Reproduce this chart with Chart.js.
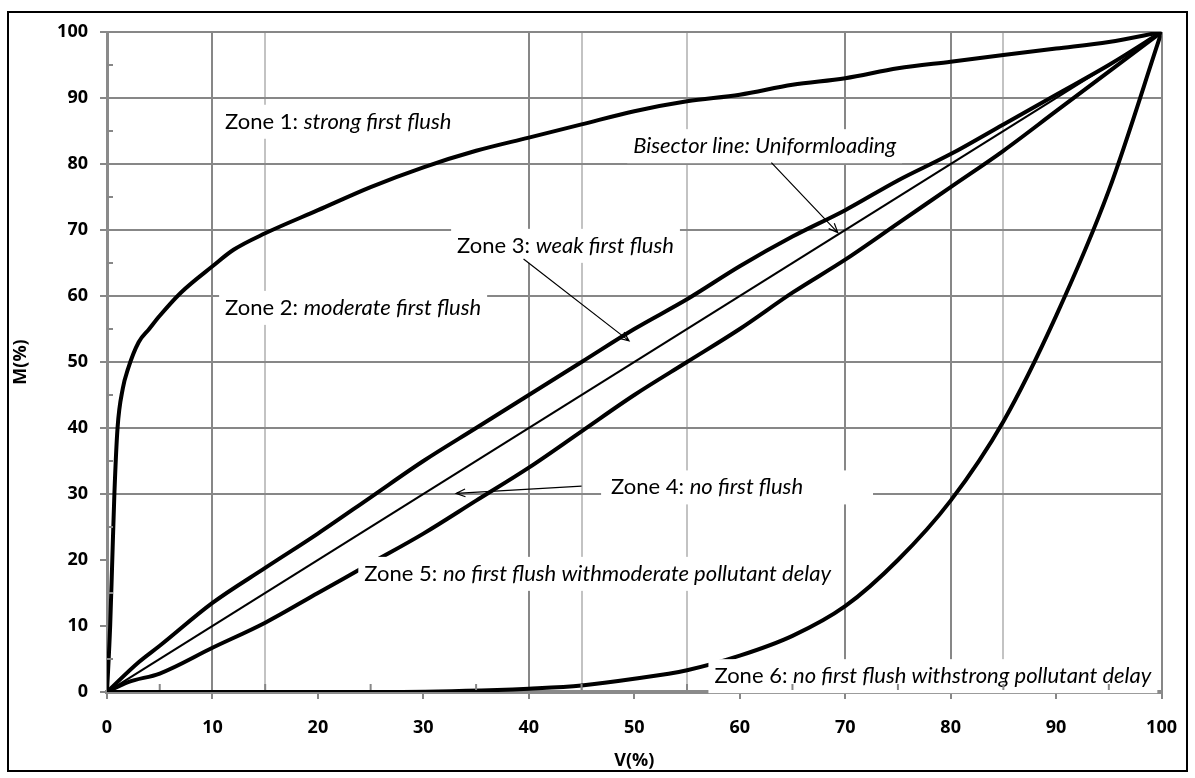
<!DOCTYPE html>
<html>
<head>
<meta charset="utf-8">
<script src="https://cdn.jsdelivr.net/npm/chart.js@4.4.1/dist/chart.umd.min.js"></script>
<style>
  html, body { margin: 0; padding: 0; background: #fff; }
  #wrap { width: 1195px; height: 778px; position: relative; }
</style>
</head>
<body>
<div id="wrap"><canvas id="flushChart" width="1195" height="778"></canvas></div>
<script>
const xTicks = [0, 10, 20, 30, 40, 50, 60, 70, 80, 90, 100];
const yTicks = [0, 10, 20, 30, 40, 50, 60, 70, 80, 90, 100];

// Zone 1 / 2 boundary: strong first flush
const strongV = [0, 0.3, 0.5, 0.7, 1, 1.5, 2, 3, 4, 5, 7, 10, 12, 15, 20, 25, 30, 35, 40, 45, 50, 55, 60, 65, 70, 75, 80, 85, 90, 95, 100];
const strongM = [0, 10, 20, 30, 40, 46, 49, 53, 55, 57, 60.5, 64.5, 67, 69.5, 73, 76.5, 79.5, 82, 84, 86, 88, 89.5, 90.5, 92, 93, 94.5, 95.5, 96.5, 97.5, 98.5, 100];

// upper limit of weak first flush
const weakV = [0, 3, 5, 10, 15, 20, 25, 30, 35, 40, 45, 50, 55, 60, 65, 70, 75, 80, 85, 90, 95, 100];
const weakM = [0, 4.5, 7, 13.5, 18.8, 24, 29.5, 35, 40, 45, 50, 55, 59.5, 64.5, 69, 73, 77.5, 81.5, 86, 90.5, 95, 100];

// bisector, uniform loading
const bisectV = [0, 100];
const bisectM = [0, 100];

// moderate pollutant delay
const moderateV = [0, 2, 5, 10, 15, 20, 25, 30, 35, 40, 45, 50, 55, 60, 65, 70, 75, 80, 85, 90, 95, 100];
const moderateM = [0, 1.5, 2.8, 6.7, 10.5, 15, 19.5, 24, 29, 34, 39.5, 45, 50, 55, 60.5, 65.5, 71, 76.5, 82, 88, 94, 100];

// strong pollutant delay
const delayV = [0, 27, 37, 40, 45, 50, 55, 60, 65, 70, 75, 80, 85, 90, 95, 100];
const delayM = [0, 0, 0.3, 0.5, 1, 2, 3.3, 5.5, 8.5, 13, 20, 29, 41, 57, 76, 100];

const darkGrid = '#878787';
const lightGrid = '#c3c3c3';
const darkX = [0, 10, 40, 70, 80, 100];
const lightX = [15, 45, 55, 85];
const gridY = [0, 30, 40, 50, 60, 70, 80, 90, 100];

function pts(xs, ys) {
    return xs.map(function(v, i) { return { x: v, y: ys[i] }; });
}

function curve(label, xs, ys, width) {
    return {
        label: label,
        data: pts(xs, ys),
        showLine: true,
        borderColor: '#000',
        borderWidth: width,
        pointRadius: 0,
        cubicInterpolationMode: 'monotone',
        fill: false
    };
}

// text boxes drawn on top of the curves, in data units
const notes = [
    { x: 11.2, y: 86.4, parts: [['Zone 1: ', false], ['strong first flush', true]] },
    { x: 11.2, y: 58.2, parts: [['Zone 2: ', false], ['moderate first flush', true]] },
    { x: 33.2, y: 67.6, parts: [['Zone 3: ', false], ['weak first flush', true]], arrow: [39.5, 65.6, 49.5, 53.2] },
    { x: 49.9, y: 82.7, parts: [['Bisector line: Uniformloading', true]], arrow: [63, 80.2, 69.3, 69.6] },
    { x: 47.8, y: 31, parts: [['Zone 4: ', false], ['no first flush', true]], arrow: [45, 31.2, 33.1, 30.1], padL: 10, padR: 70 },
    { x: 24.4, y: 17.9, parts: [['Zone 5: ', false], ['no first flush withmoderate pollutant delay', true]] },
    { x: 57.6, y: 2.4, parts: [['Zone 6: ', false], ['no first flush withstrong pollutant delay', true]] }
];
const noteFont = 'px Lato';
const noteSize = 22;

const notePlugin = {
    id: 'notes',
    afterDatasetsDraw: function(chart) {
        const c = chart.ctx;
        const xs = chart.scales.x, ys = chart.scales.y;
        c.save();
        notes.forEach(function(n) {
            const px = xs.getPixelForValue(n.x);
            const py = ys.getPixelForValue(n.y);
            let w = 0;
            n.parts.forEach(function(p) {
                c.font = (p[1] ? 'italic ' : '') + noteSize + noteFont;
                w += c.measureText(p[0]).width;
            });
            const pl = n.padL || 6, pr = n.padR || 6;
            c.fillStyle = '#fff';
            c.fillRect(px - pl, py - 17, w + pl + pr, 34);
            let cx = px;
            c.fillStyle = '#000';
            c.textBaseline = 'middle';
            n.parts.forEach(function(p) {
                c.font = (p[1] ? 'italic ' : '') + noteSize + noteFont;
                c.fillText(p[0], cx, py);
                cx += c.measureText(p[0]).width;
            });
            if (n.arrow) {
                const x1 = xs.getPixelForValue(n.arrow[0]), y1 = ys.getPixelForValue(n.arrow[1]);
                const x2 = xs.getPixelForValue(n.arrow[2]), y2 = ys.getPixelForValue(n.arrow[3]);
                const a = Math.atan2(y2 - y1, x2 - x1);
                c.strokeStyle = '#000';
                c.lineWidth = 1.2;
                c.beginPath();
                c.moveTo(x1, y1);
                c.lineTo(x2, y2);
                c.moveTo(x2 - 10 * Math.cos(a - 0.4), y2 - 10 * Math.sin(a - 0.4));
                c.lineTo(x2, y2);
                c.lineTo(x2 - 10 * Math.cos(a + 0.4), y2 - 10 * Math.sin(a + 0.4));
                c.stroke();
            }
        });
        c.restore();
    },
    afterDraw: function(chart) {
        const c = chart.ctx;
        const xs = chart.scales.x, ys = chart.scales.y;
        c.save();
        // minor inner ticks
        c.strokeStyle = darkGrid;
        c.lineWidth = 2;
        c.beginPath();
        for (let v = 5; v < 100; v += 10) {
            const py = ys.getPixelForValue(v);
            c.moveTo(ys.right, py);
            c.lineTo(ys.right + 6, py);
            const px = xs.getPixelForValue(v);
            c.moveTo(px, xs.top - 2);
            c.lineTo(px, xs.top - 8);
        }
        c.stroke();
        // outer frame
        c.strokeStyle = '#000';
        c.lineWidth = 2;
        c.strokeRect(8, 12, 1179, 759);
        c.restore();
    }
};

const tickFont = { family: 'Open Sans', size: 18, weight: 'bold' };

new Chart(document.getElementById('flushChart').getContext('2d'), {
    type: 'scatter',
    data: {
        datasets: [
            curve('Strong first flush', strongV, strongM, 4),
            curve('Weak first flush', weakV, weakM, 4),
            curve('Bisector', bisectV, bisectM, 2),
            curve('Moderate delay', moderateV, moderateM, 4),
            curve('Strong delay', delayV, delayM, 4)
        ]
    },
    options: {
        responsive: false,
        animation: false,
        layout: { padding: { left: 10, right: 28, top: 32, bottom: 6 } },
        plugins: {
            legend: { display: false },
            tooltip: { enabled: false }
        },
        scales: {
            x: {
                type: 'linear',
                min: 0,
                max: 100,
                afterBuildTicks: function(s) {
                    const t = [];
                    for (let v = 0; v <= 100; v += 5) t.push({ value: v });
                    s.ticks = t;
                },
                afterFit: function(s) { s.height = 80; },
                ticks: {
                    autoSkip: false,
                    maxRotation: 0,
                    padding: 18,
                    color: '#000',
                    font: tickFont,
                    callback: function(v) { return xTicks.indexOf(v) >= 0 ? String(v) : ''; }
                },
                grid: {
                    lineWidth: 2,
                    tickLength: 7,
                    color: function(ctx) {
                        const v = ctx.tick ? ctx.tick.value : 0;
                        if (darkX.indexOf(v) >= 0) return darkGrid;
                        return lightX.indexOf(v) >= 0 ? lightGrid : 'rgba(0,0,0,0)';
                    },
                    tickColor: function(ctx) {
                        const v = ctx.tick ? ctx.tick.value : 0;
                        return v % 10 === 0 ? darkGrid : 'rgba(0,0,0,0)';
                    }
                },
                border: { color: '#8a8a8a', width: 4 },
                title: {
                    display: true,
                    text: 'V(%)',
                    color: '#000',
                    font: tickFont,
                    padding: { top: 0, bottom: 0 }
                }
            },
            y: {
                type: 'linear',
                min: 0,
                max: 100,
                afterBuildTicks: function(s) {
                    s.ticks = yTicks.map(function(v) { return { value: v }; });
                },
                afterFit: function(s) { s.width = 97; },
                ticks: {
                    padding: 12,
                    color: '#000',
                    font: tickFont
                },
                grid: {
                    lineWidth: 2,
                    tickLength: 7,
                    color: function(ctx) {
                        const v = ctx.tick ? ctx.tick.value : 0;
                        return gridY.indexOf(v) >= 0 ? darkGrid : 'rgba(0,0,0,0)';
                    },
                    tickColor: darkGrid
                },
                border: { color: '#8a8a8a', width: 3 },
                title: {
                    display: true,
                    text: 'M(%)',
                    color: '#000',
                    font: tickFont,
                    padding: { top: 0, bottom: 0 }
                }
            }
        }
    },
    plugins: [notePlugin]
});
</script>
</body>
</html>
